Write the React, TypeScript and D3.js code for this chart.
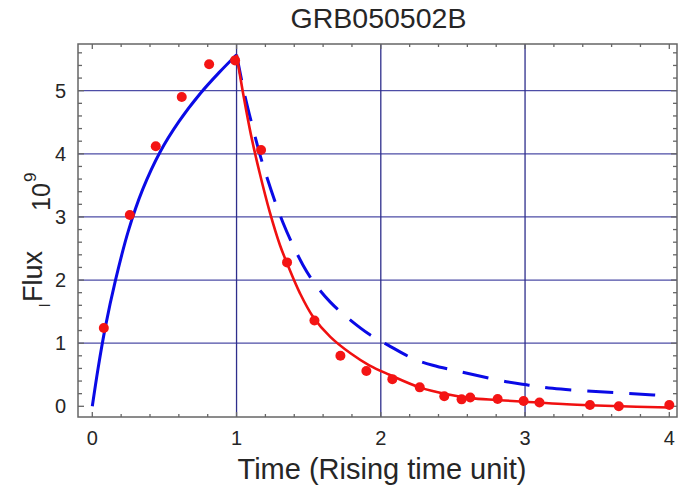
import React from "react";
import * as d3 from "d3";

const W = 678;
const H = 488;

const title = "GRB050502B";
const xTitle = "Time (Rising time unit)";
const xTicks = [0, 1, 2, 3, 4];
const yTicks = [0, 1, 2, 3, 4, 5];
const xGrid = [1, 2, 3];
const yGrid = [1, 2, 3, 4, 5];

const obsT = [0.08, 0.26, 0.44, 0.62, 0.81, 0.99, 1.17, 1.35, 1.54, 1.72, 1.9, 2.08, 2.27, 2.44, 2.56, 2.62, 2.81, 2.99, 3.1, 3.45, 3.65, 4.0];
const obsF = [1.24, 3.03, 4.12, 4.9, 5.42, 5.48, 4.06, 2.28, 1.36, 0.8, 0.56, 0.43, 0.3, 0.16, 0.11, 0.14, 0.116, 0.084, 0.06, 0.02, 0.0, 0.02];

const riseT = [0, 0.04, 0.09, 0.16, 0.25, 0.35, 0.47, 0.6, 0.75, 0.88, 1.0];
const riseF = [0, 0.6, 1.25, 1.99, 2.78, 3.44, 4.03, 4.51, 4.96, 5.29, 5.57];

const fitT = [1.0, 1.05, 1.1, 1.16, 1.23, 1.3, 1.36, 1.44, 1.53, 1.65, 1.79, 1.92, 2.06, 2.27, 2.46, 2.62, 2.8, 3.0, 3.26, 3.61, 4.0];
const fitF = [5.57, 4.9, 4.3, 3.7, 3.08, 2.56, 2.21, 1.79, 1.42, 1.1, 0.84, 0.65, 0.5, 0.3, 0.19, 0.13, 0.1, 0.073, 0.036, 0.005, -0.02];

const dashT = [1.0, 1.06, 1.12, 1.18, 1.32, 1.46, 1.55, 1.65, 1.76, 1.92, 2.05, 2.22, 2.36, 2.55, 2.87, 3.01, 3.19, 3.52, 3.89, 4.0];
const dashF = [5.57, 4.9, 4.35, 3.85, 2.92, 2.24, 1.92, 1.65, 1.42, 1.14, 0.97, 0.76, 0.65, 0.55, 0.39, 0.34, 0.285, 0.23, 0.18, 0.165];

const L = 78, R = 677, T = 44, B = 417;

export default function App() {
  const x = d3.scaleLinear().domain([0, 4]).range([92.3, 669.3]);
  const y = d3.scaleLinear().domain([0, 5]).range([406.3, 90.7]);

  const line = d3
    .line<[number, number]>()
    .x((d) => x(d[0]))
    .y((d) => y(d[1]))
    .curve(d3.curveCatmullRom.alpha(0.5));

  const rise = riseT.map((t, i) => [t, riseF[i]] as [number, number]);
  const fit = fitT.map((t, i) => [t, fitF[i]] as [number, number]);
  const dash = dashT.map((t, i) => [t, dashF[i]] as [number, number]);

  const xMinor = d3.range(0, 4.001, 0.2);
  const yMinor = d3.range(0, 5.61, 0.2);

  const font = "'Liberation Sans', Arial, sans-serif";
  const axisCol = "#666";
  const textCol = "#262626";

  return (
    <svg
      width={W}
      height={H}
      style={{ position: "absolute", left: 0, top: 0, background: "#fff" }}
      fontFamily={font}
    >
      <rect x={0} y={0} width={W} height={H} fill="#fff" />
      {yGrid.map((v) => (
        <line key={"gy" + v} x1={L} x2={R} y1={y(v)} y2={y(v)} stroke="#4d4da6" strokeWidth={1.3} />
      ))}
      {xGrid.map((v) => (
        <line key={"gx" + v} x1={x(v)} x2={x(v)} y1={T} y2={B} stroke="#2e2e8c" strokeWidth={1.3} />
      ))}
      <rect x={L} y={T} width={R - L} height={B - T} fill="none" stroke={axisCol} strokeWidth={1.5} />
      {xMinor.map((v, i) => {
        const len = Math.abs(v - Math.round(v)) < 1e-6 ? 5 : 3;
        return (
          <g key={"xt" + i}>
            <line x1={x(v)} x2={x(v)} y1={B} y2={B - len} stroke={axisCol} strokeWidth={1.3} />
            <line x1={x(v)} x2={x(v)} y1={T} y2={T + len} stroke={axisCol} strokeWidth={1.3} />
          </g>
        );
      })}
      {yMinor.map((v, i) => {
        const len = Math.abs(v - Math.round(v)) < 1e-6 ? 6 : 4;
        return (
          <g key={"yt" + i}>
            <line x1={L} x2={L + len} y1={y(v)} y2={y(v)} stroke={axisCol} strokeWidth={1.3} />
            <line x1={R} x2={R - len} y1={y(v)} y2={y(v)} stroke={axisCol} strokeWidth={1.3} />
          </g>
        );
      })}
      {xTicks.map((v) => (
        <text key={"xl" + v} x={x(v)} y={445} fontSize={20} textAnchor="middle" fill={textCol}>
          {v}
        </text>
      ))}
      {yTicks.map((v) => (
        <text key={"yl" + v} x={66} y={y(v) + 7} fontSize={20} textAnchor="end" fill={textCol}>
          {v}
        </text>
      ))}
      <path d={line(rise) || ""} fill="none" stroke="#0a0ae6" strokeWidth={3} />
      <path d={line(dash) || ""} fill="none" stroke="#0a0ae6" strokeWidth={3} strokeDasharray="26,16" />
      <path d={line(fit) || ""} fill="none" stroke="#f01010" strokeWidth={2.6} />
      {obsT.map((t, i) => (
        <circle key={"p" + i} cx={x(t)} cy={y(obsF[i])} r={5} fill="#f41414" />
      ))}
      <text x={378.5} y={28} fontSize={28.5} textAnchor="middle" fill={textCol}>
        {title}
      </text>
      <text x={382} y={479} fontSize={29} textAnchor="middle" fill={textCol}>
        {xTitle}
      </text>
      <text transform="translate(50,307) rotate(-90)" fontSize={14} fill={textCol}>l</text>
      <text transform="translate(42,302) rotate(-90)" fontSize={27} fill={textCol}>Flux</text>
      <text transform="translate(50,211) rotate(-90)" fontSize={25} fill={textCol}>10</text>
      <text transform="translate(36,182) rotate(-90)" fontSize={17} fill={textCol}>9</text>
    </svg>
  );
}
